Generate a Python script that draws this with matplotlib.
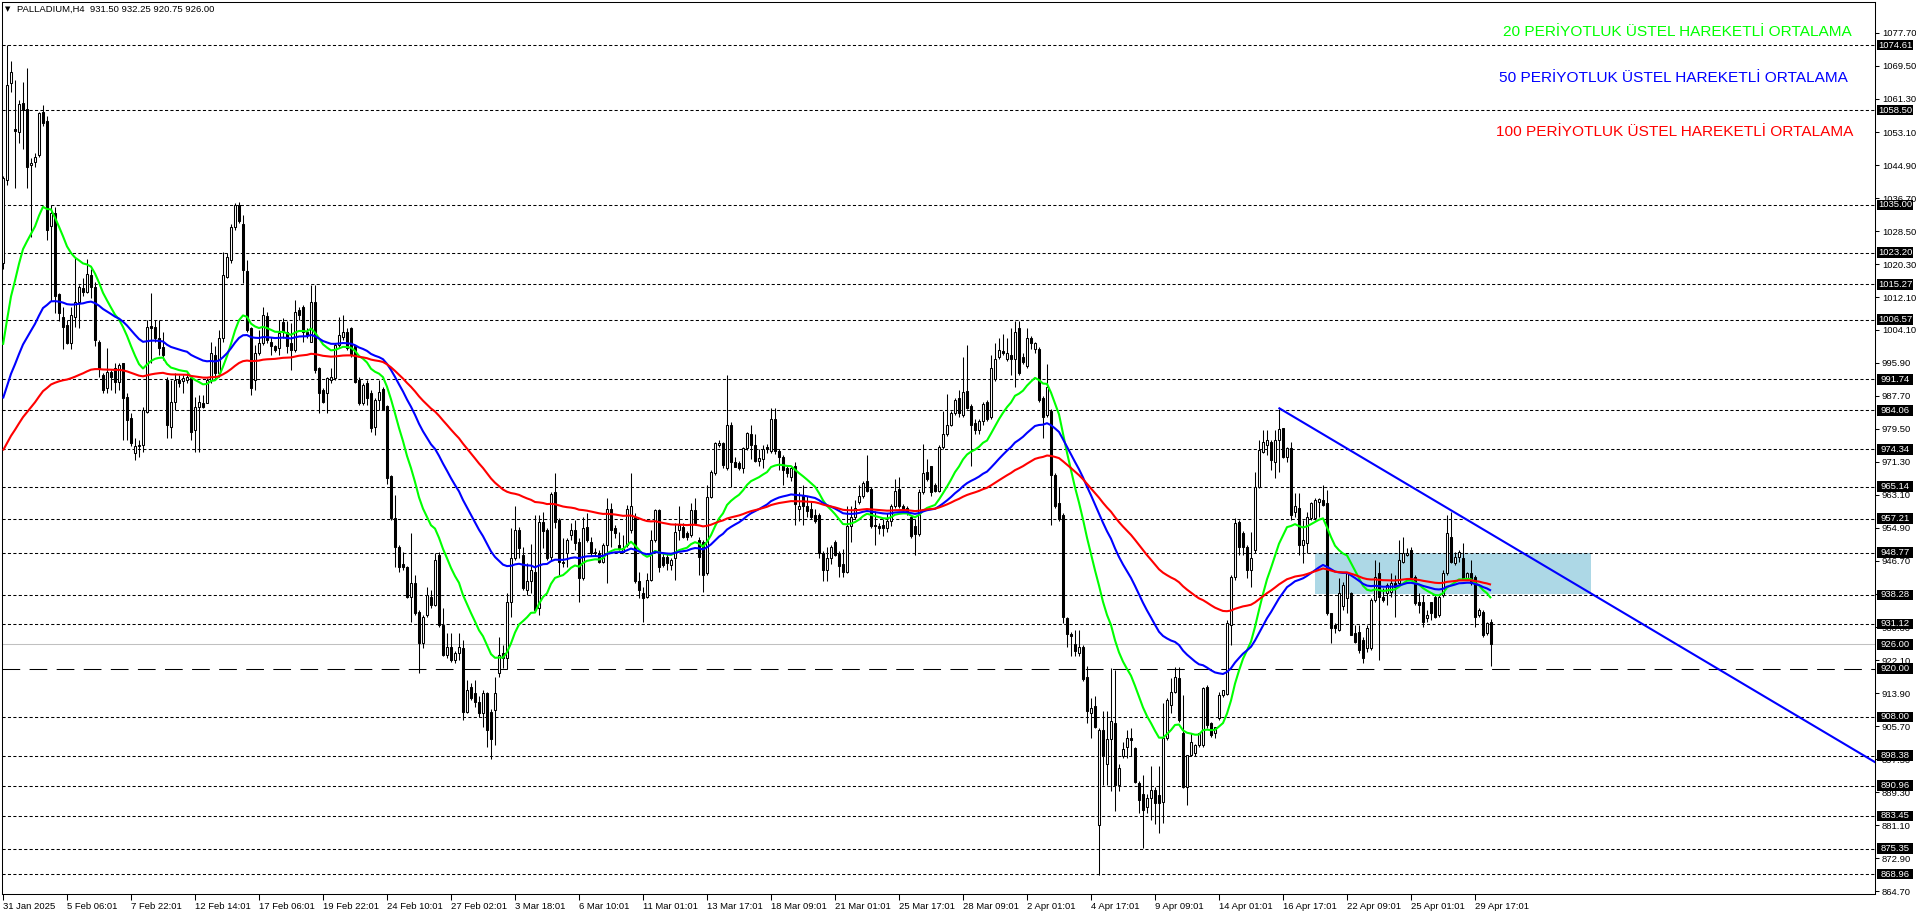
import matplotlib
matplotlib.use('Agg')
import matplotlib.pyplot as plt
import matplotlib.transforms as mtransforms
from matplotlib.patches import Rectangle
import numpy as np

plt.rcParams['font.family'] = ['Liberation Sans', 'DejaVu Sans']

# ---------------- DATA ----------------
symbol_header = "PALLADIUM,H4  931.50 932.25 920.75 926.00"

ohlc = [
(1020.5,1042.2,1019.0,1041.6),(1041.2,1074.7,1040.0,1064.8),(1065.2,1070.7,1063.0,1068.1),(1053.8,1066.0,1039.1,1053.4),
(1053.2,1061.0,1050.3,1060.0),(1060.4,1065.6,1049.0,1058.6),(1058.7,1069.1,1039.1,1044.5),(1044.9,1046.6,1027.1,1045.5),
(1045.7,1047.8,1044.5,1047.0),(1047.4,1058.1,1047.0,1057.7),(1058.1,1059.8,1054.5,1055.4),(1055.9,1057.0,1026.2,1028.8),
(1029.8,1034.9,1011.2,1033.1),(1033.1,1034.6,1008.1,1012.3),(1012.8,1013.2,1006.1,1008.3),(1007.3,1009.8,999.2,1004.8),
(1005.1,1006.5,1000.5,1000.8),(1000.7,1009.8,999.2,1007.7),(1007.1,1021.8,1004.8,1011.0),(1011.0,1015.1,1004.6,1014.7),
(1014.5,1016.8,1012.3,1013.3),(1013.5,1021.5,1013.1,1017.8),(1017.6,1019.0,1012.0,1014.7),(1014.7,1016.0,999.9,1001.5),
(1001.1,1001.5,992.4,994.5),(992.8,993.2,988.3,989.1),(989.5,999.4,988.3,993.6),(993.6,994.0,989.1,992.4),
(994.5,995.7,988.3,991.2),(991.2,995.7,989.1,995.3),(995.7,995.9,976.7,987.0),(987.4,988.3,976.7,981.7),
(982.1,983.3,975.1,975.9),(973.4,977.1,971.7,975.1),(975.1,976.7,972.6,975.5),(975.5,984.9,973.8,984.1),
(983.7,1006.5,983.3,1004.8),(1004.9,1013.1,995.7,1004.6),(1004.8,1006.5,1001.1,1001.9),(1001.9,1006.5,997.8,999.4),
(999.8,1003.6,996.5,997.8),(991.6,992.4,977.1,980.4),(980.0,991.6,977.1,986.2),(986.2,993.2,984.1,991.6),
(991.7,992.8,989.9,990.9),(991.4,992.8,988.3,992.0),(991.7,993.2,990.8,992.4),(992.0,992.4,976.7,978.8),
(979.2,987.4,973.8,985.0),(985.0,987.9,973.8,986.2),(985.8,987.9,984.6,985.0),(985.8,992.0,985.8,991.6),
(991.6,1001.1,990.8,998.2),(997.8,999.9,991.6,993.2),(993.2,1004.0,992.4,1001.9),(1001.9,1023.4,1001.1,1017.6),
(1017.2,1023.0,1016.8,1022.2),(1021.4,1030.4,1020.5,1029.6),(1029.6,1035.4,1028.8,1035.0),(1035.0,1035.8,1030.5,1030.9),
(1030.4,1032.5,1015.6,1018.9),(1018.5,1021.4,1003.6,1004.0),(1004.4,1004.8,987.9,989.5),(991.6,1000.3,989.1,998.2),
(998.2,1004.0,997.8,1000.7),(1000.7,1009.8,1000.3,1007.7),(1007.5,1008.5,1000.7,1001.5),(1001.1,1002.3,997.8,999.9),
(999.9,1000.3,998.6,999.0),(999.4,1006.5,997.8,1003.2),(1006.0,1007.0,1002.0,1003.6),(1003.6,1006.1,998.2,999.9),
(1000.7,1005.6,994.1,999.0),(999.0,1011.4,998.6,1008.5),(1008.9,1009.8,1006.5,1007.7),(1009.8,1010.2,1001.1,1003.6),
(1003.6,1004.4,1001.9,1002.7),(1001.1,1015.1,1001.1,1011.0),(1011.0,1015.1,993.2,994.1),(994.5,994.9,983.3,988.3),
(989.1,989.5,985.8,986.2),(988.3,992.4,983.3,992.0),(991.6,994.5,990.8,992.4),(992.0,1000.7,991.6,1000.3),
(1000.3,1007.3,999.4,1002.7),(1002.3,1007.7,1001.5,1003.6),(1003.6,1004.4,999.0,999.4),(1004.4,1004.8,997.4,997.8),
(999.9,1000.3,990.8,991.2),(991.6,992.4,985.4,985.8),(985.8,990.8,985.4,990.3),(990.8,991.6,985.4,987.0),
(988.3,989.1,978.8,979.6),(980.0,987.0,978.0,986.6),(986.6,991.6,984.1,988.7),(989.3,989.9,984.1,984.1),
(985.1,985.4,965.9,967.2),(967.8,968.0,956.9,957.3),(957.3,963.0,945.3,950.2),(950.2,950.6,944.0,945.3),
(945.9,949.0,944.4,945.3),(945.3,945.5,937.4,937.8),(937.8,953.5,931.6,941.1),(941.1,943.2,933.3,933.7),
(934.1,934.5,918.8,926.3),(926.3,933.3,925.0,932.9),(933.3,940.3,932.9,938.2),(937.8,939.5,934.9,935.8),
(935.8,948.6,935.4,946.9),(948.2,949.0,930.4,930.8),(930.8,935.0,923.0,923.4),(923.4,928.7,922.5,925.4),
(925.4,928.7,921.7,922.1),(922.1,924.4,921.3,923.8),(923.8,928.7,922.0,925.4),(925.0,927.0,907.2,909.3),
(909.3,917.2,908.9,914.7),(915.5,916.3,912.2,912.6),(913.9,917.2,910.4,911.8),(911.8,913.1,908.1,908.9),
(908.9,914.7,905.6,913.9),(913.9,914.3,900.5,904.8),(909.3,910.0,897.5,902.5),(909.7,918.0,901.0,913.9),
(918.8,927.9,918.0,923.4),(923.8,925.9,920.1,922.5),(922.5,938.7,920.0,936.6),(936.6,954.8,932.9,947.3),
(947.3,960.2,946.9,954.4),(954.4,955.2,947.3,949.8),(948.2,950.2,939.5,939.9),(939.5,946.1,938.2,941.6),
(941.6,951.0,938.7,944.4),(944.0,958.1,934.1,934.5),(934.9,958.1,933.3,956.4),(956.4,958.9,949.8,954.0),
(954.4,954.8,946.9,947.3),(947.7,963.8,946.9,963.4),(963.8,968.4,954.8,956.4),(956.9,957.3,943.2,946.5),
(946.5,952.3,945.3,946.1),(948.6,952.3,945.3,951.9),(953.1,956.0,951.9,954.4),(954.4,956.9,949.4,951.1),
(951.5,952.3,936.6,942.4),(942.4,957.7,942.0,954.8),(955.2,958.5,951.5,951.9),(951.5,952.7,947.8,948.6),
(948.6,950.0,948.0,949.0),(948.6,949.4,946.1,946.5),(946.5,951.1,946.1,950.6),(950.6,962.2,941.1,959.7),
(959.7,961.0,950.2,954.4),(954.8,955.5,952.5,953.5),(950.6,953.9,949.4,949.8),(949.0,953.1,948.6,949.8),
(950.6,960.6,950.2,959.7),(954.4,968.4,953.5,960.2),(957.7,958.5,941.1,941.6),(941.6,944.0,937.4,939.5),
(938.7,940.3,931.6,937.4),(937.8,943.6,937.4,942.0),(942.0,954.4,941.6,951.9),(951.9,959.7,951.5,959.3),
(959.3,959.7,944.0,945.3),(947.7,948.6,945.3,945.7),(947.7,948.6,944.4,946.1),(945.7,947.3,944.4,946.9),
(947.3,956.0,942.0,953.9),(954.4,960.2,951.9,955.6),(955.2,956.0,952.3,952.7),(953.5,954.0,952.0,952.7),
(953.1,961.0,952.7,959.3),(959.3,962.2,955.6,956.0),(951.9,952.7,943.2,947.7),(951.5,951.9,939.1,943.2),
(943.6,965.5,943.2,962.6),(962.6,969.3,962.2,968.8),(968.4,976.3,968.0,975.9),(975.5,976.8,975.0,975.9),
(975.9,976.3,969.7,970.5),(969.7,992.8,969.3,980.4),(980.4,981.2,965.1,971.3),(971.3,972.6,970.1,970.1),
(970.9,971.5,969.3,969.7),(969.7,975.0,968.4,974.6),(974.6,978.8,974.2,978.4),(978.2,980.5,972.1,975.4),
(975.4,978.2,971.2,971.6),(971.6,974.4,970.2,972.2),(972.1,975.4,969.8,974.4),(974.9,975.8,973.5,974.4),
(974.0,984.7,973.5,981.9),(981.9,984.7,973.1,974.0),(974.0,974.4,969.3,972.6),(972.6,973.0,965.6,969.3),
(969.8,970.2,967.4,968.4),(967.4,970.2,966.5,969.8),(970.2,971.2,955.7,960.9),(959.5,963.7,956.7,960.4),
(962.7,965.6,955.7,960.4),(960.4,962.7,957.6,959.0),(959.5,961.3,957.1,957.6),(958.0,959.5,956.2,956.7),
(958.0,958.5,947.3,948.7),(948.7,949.2,941.7,944.5),(944.5,950.1,941.7,947.3),(947.3,950.6,945.9,950.1),
(951.5,952.0,947.8,948.2),(948.7,949.2,942.6,945.4),(945.9,949.6,942.6,944.0),(944.0,960.4,943.6,955.3),
(955.3,960.4,951.5,957.6),(957.6,961.8,957.1,959.9),(961.3,965.6,960.9,962.7),(962.7,966.5,962.3,966.0),
(966.5,973.0,963.7,964.1),(964.6,965.1,954.8,955.3),(955.7,959.0,950.6,955.3),(955.3,956.2,953.4,954.8),
(955.7,957.1,952.9,954.8),(954.8,958.5,953.9,956.7),(956.7,960.9,955.3,960.4),(960.4,967.0,959.9,964.1),
(964.6,967.4,959.9,960.4),(960.4,960.9,959.0,959.5),(959.9,960.4,958.1,958.5),(957.6,958.1,952.4,952.9),
(955.3,957.1,948.2,953.4),(953.4,964.6,952.9,963.7),(963.7,975.8,963.2,968.4),(968.8,972.1,966.5,967.0),
(970.2,970.2,962.8,963.7),(965.6,966.0,963.7,964.1),(964.1,975.4,963.7,974.9),(974.9,983.8,974.4,978.2),
(978.2,988.0,977.7,980.5),(980.5,983.8,980.1,983.3),(983.3,987.0,982.8,986.6),(987.1,989.0,982.4,983.3),
(982.9,997.4,982.4,988.5),(988.9,1000.2,984.3,984.7),(985.2,985.7,970.2,980.5),(981.0,981.9,978.2,979.1),
(979.1,981.9,978.2,981.5),(981.5,986.2,980.5,985.7),(986.2,986.6,981.5,981.9),(982.4,997.9,981.9,994.6),
(991.8,1000.7,991.3,996.9),(997.4,1002.1,996.9,999.1),(998.8,1003.0,997.9,998.3),(996.9,1002.1,996.4,998.3),
(997.9,1004.4,992.7,996.9),(996.9,1006.3,989.9,1003.5),(1004.4,1006.3,992.7,993.2),(997.4,998.3,995.5,996.0),
(995.1,1004.4,994.6,1002.1),(1002.1,1002.5,999.3,1000.7),(999.3,1001.1,998.3,1000.7),(999.3,999.7,986.2,986.6),
(987.0,987.5,977.3,982.4),(982.9,995.5,982.4,989.9),(983.8,984.3,955.7,967.9),(967.9,968.4,959.9,960.4),
(961.1,965.1,956.6,957.1),(958.0,958.5,931.4,932.8),(932.6,932.8,925.3,928.6),(928.6,929.0,923.0,928.1),
(926.2,929.5,923.0,924.4),(923.9,929.5,923.0,925.3),(925.3,925.8,916.9,917.4),(917.8,920.6,906.6,909.4),
(908.9,912.7,902.8,910.3),(910.8,913.1,905.2,905.6),(881.3,905.2,868.7,904.7),(904.7,909.4,891.1,898.2),
(896.3,909.4,891.1,902.4),(902.4,920.2,889.7,907.0),(906.6,919.7,884.6,891.1),(891.1,896.3,889.7,895.4),
(898.2,901.9,897.7,900.0),(900.6,904.7,897.7,902.7),(902.7,905.2,898.2,902.3),(900.2,900.6,891.5,891.9),
(891.5,892.0,884.1,887.4),(889.0,893.6,875.4,884.9),(885.7,889.0,884.1,887.8),(887.8,895.7,882.4,889.9),
(889.9,890.5,881.5,886.6),(888.6,895.7,879.1,886.6),(887.0,911.4,881.6,902.7),(902.7,912.6,902.3,912.2),
(911.0,917.6,908.9,914.3),(914.3,920.5,913.9,918.0),(917.6,920.5,906.8,907.2),(903.9,913.4,890.3,890.7),
(890.7,898.6,886.2,898.6),(898.6,903.9,898.2,901.9),(899.0,901.4,898.2,901.0),(901.0,903.9,900.6,903.9),
(901.0,915.5,900.6,915.1),(915.5,915.9,905.2,906.0),(906.4,906.8,903.1,903.5),(903.9,905.6,902.7,905.6),
(907.7,914.3,907.2,913.4),(913.4,914.7,913.0,914.7),(913.8,932.0,913.4,931.2),(930.8,943.2,925.8,942.8),
(942.8,957.3,942.0,956.0),(956.4,956.9,948.2,950.2),(953.5,954.0,948.2,950.2),(950.2,950.6,942.4,944.4),
(944.4,953.9,940.3,947.3),(949.4,968.8,948.6,965.1),(965.1,976.7,964.7,974.2),(973.8,979.2,973.4,976.3),
(975.5,979.2,973.0,976.7),(976.3,976.7,969.3,971.7),(971.3,979.2,967.2,976.7),(976.7,984.5,968.8,979.4),
(979.6,979.6,972.2,972.6),(972.6,975.0,971.3,974.6),(974.6,976.3,956.9,958.1),(958.9,963.5,957.7,960.2),
(959.8,963.5,948.2,950.6),(950.6,956.9,946.1,951.9),(951.1,958.9,948.6,957.7),(957.3,961.4,956.9,961.0),
(957.3,962.2,956.9,961.8),(961.4,962.2,957.7,962.0),(961.8,965.6,960.2,960.6),(961.0,964.3,933.3,933.7),
(933.7,933.7,926.3,930.0),(930.8,931.2,928.7,930.0),(929.6,942.4,929.2,938.7),(935.4,941.5,934.5,940.7),
(937.4,944.0,933.7,943.6),(938.7,939.1,928.3,928.3),(928.7,930.8,926.3,926.7),(929.1,930.8,923.8,924.6),
(927.1,927.9,921.3,922.5),(925.0,930.8,924.2,930.0),(925.0,937.4,924.6,937.0),(937.0,946.9,936.6,942.8),
(943.6,946.5,922.1,937.8),(937.8,939.9,936.6,937.0),(938.7,941.1,935.8,940.7),(939.1,943.6,937.8,941.1),
(941.1,943.2,932.9,940.3),(941.1,951.9,940.7,946.9),(946.5,952.7,946.1,948.6),(948.2,949.8,947.8,948.6),
(949.4,950.2,942.4,942.8),(942.8,943.2,935.8,936.2),(936.6,938.7,933.7,935.8),(936.6,938.2,930.4,931.6),
(932.5,934.5,931.6,933.3),(936.6,936.6,932.0,933.7),(937.8,938.2,932.5,932.9),(933.3,938.2,932.9,937.8),
(938.2,944.4,937.8,943.6),(943.6,958.1,943.2,953.5),(952.7,958.9,946.1,946.5),(946.1,949.0,945.7,947.7),
(947.7,949.4,946.5,949.0),(947.3,951.1,942.0,942.4),(942.4,944.0,942.0,943.6),(943.6,946.9,940.7,941.1),
(942.8,943.2,930.4,932.9),(933.3,934.9,932.9,934.5),(934.1,934.5,927.9,928.3),(928.7,931.6,928.3,931.2),
(931.50,932.25,920.75,926.00),
]

# EMA periods and their values at the first visible bar
ema_periods = [20, 50, 100]
ema_seed = [1000.3, 987.0, 974.1]
ema_colors = ['#00FF00', '#0000FF', '#FF0000']
ema_labels = ["20 PERİYOTLUK ÜSTEL HAREKETLİ ORTALAMA",
              "50 PERİYOTLUK ÜSTEL HAREKETLİ ORTALAMA",
              "100 PERİYOTLUK ÜSTEL HAREKETLİ ORTALAMA"]

dotted_levels = [1074.61, 1058.50, 1035.00, 1023.20, 1015.27, 1006.57, 991.74, 984.06,
                 974.34, 965.14, 957.21, 948.77, 938.28, 931.12, 908.00, 898.38,
                 890.96, 883.45, 875.35, 868.96]
long_dash_level = 920.00
bid_level = 926.00

ytick_vals = [1077.70, 1069.50, 1061.30, 1053.10, 1044.90, 1036.70, 1028.50, 1020.30,
              1012.10, 1004.10, 995.90, 987.70, 979.50, 971.30, 963.10, 954.90, 946.70,
              938.50, 930.30, 922.10, 913.90, 905.70, 897.50, 889.30, 881.10, 872.90, 864.70]

xtick_labels = ["31 Jan 2025", "5 Feb 06:01", "7 Feb 22:01", "12 Feb 14:01", "17 Feb 06:01",
                "19 Feb 22:01", "24 Feb 10:01", "27 Feb 02:01", "3 Mar 18:01", "6 Mar 10:01",
                "11 Mar 01:01", "13 Mar 17:01", "18 Mar 09:01", "21 Mar 01:01", "25 Mar 17:01",
                "28 Mar 09:01", "2 Apr 01:01", "4 Apr 17:01", "9 Apr 09:01", "14 Apr 01:01",
                "16 Apr 17:01", "22 Apr 09:01", "25 Apr 01:01", "29 Apr 17:01"]
bars_per_label = 16

trend_x = [319.1, 470.0]
trend_y = [984.55, 895.6]

zone_x = [328.0, 397.0]
zone_y = [938.4, 948.6]

# ---------------- FIGURE ----------------
W, H, DPI = 1916, 915, 100
fig = plt.figure(figsize=(W / DPI, H / DPI), dpi=DPI)
fig.patch.set_facecolor('white')
L_PX, R_PX, T_PX, B_PX = 2, 1875, 2, 894
ax = fig.add_axes([L_PX / W, 1 - B_PX / H, (R_PX - L_PX) / W, (B_PX - T_PX) / H])
ax.set_facecolor('white')

arr = np.array(ohlc)
o, h, l, c = arr[:, 0], arr[:, 1], arr[:, 2], arr[:, 3]
idx = np.arange(len(c))

ax.set_xlim(-0.25, 468)
ax.set_ylim(864.07, 1085.35)

# zone rectangle
ax.add_patch(Rectangle((zone_x[0], zone_y[0]), zone_x[1] - zone_x[0], zone_y[1] - zone_y[0],
                       facecolor='#ADD8E6', edgecolor='none', zorder=0.5))

# horizontal levels
for lv in dotted_levels:
    ax.axhline(lv, color='black', lw=0.75, ls=(0, (3, 2.2)), zorder=1)
ax.axhline(long_dash_level, color='black', lw=0.75, ls=(0, (17, 9)), zorder=1)
ax.axhline(bid_level, color='#C0C0C0', lw=0.75, zorder=1)

# candles
up = c >= o
ax.vlines(idx, l, h, color='black', lw=0.75, zorder=3)
bot = np.minimum(o, c)
hgt = np.abs(c - o)
ax.bar(idx[up], hgt[up], bottom=bot[up], width=0.5, facecolor='white',
       edgecolor='black', linewidth=0.75, zorder=4)
ax.bar(idx[~up], hgt[~up], bottom=bot[~up], width=0.5, facecolor='black',
       edgecolor='black', linewidth=0.75, zorder=4)

# EMAs
for per, seed, col in zip(ema_periods, ema_seed, ema_colors):
    a = 2.0 / (per + 1)
    e = np.empty(len(c))
    e[0] = seed
    for t in range(1, len(c)):
        e[t] = e[t - 1] + a * (c[t] - e[t - 1])
    ax.plot(idx, e, color=col, lw=1.5, zorder=5, solid_capstyle='butt')

# trend line
ax.plot(trend_x, trend_y, color='#0000FF', lw=1.5, zorder=5)

# axes styling
for s in ax.spines.values():
    s.set_color('black')
    s.set_linewidth(0.75)
ax.yaxis.tick_right()
ax.set_yticks(ytick_vals)
ax.set_yticklabels([f'{v:.2f}' for v in ytick_vals], fontsize=6.8)
ax.tick_params(axis='y', direction='out', length=3, width=0.75, pad=2, colors='black')
ax.set_xticks(np.arange(len(xtick_labels)) * bars_per_label)
ax.set_xticklabels(xtick_labels, fontsize=6.8, ha='left')
ax.tick_params(axis='x', direction='out', length=4, width=0.75, pad=2, colors='black')

# boxed price labels on the right
blend = mtransforms.blended_transform_factory(fig.transFigure, ax.transData)
box_x0 = 1877 / W
box_w = 36 / W
px_price = (1085.35 - 864.07) / (B_PX - T_PX)
for lv in dotted_levels + [long_dash_level, bid_level]:
    ax.add_patch(Rectangle((box_x0, lv - 5.2 * px_price), box_w, 10.4 * px_price,
                           transform=blend, facecolor='black', edgecolor='none',
                           clip_on=False, zorder=10))
    ax.text(box_x0 + box_w / 2, lv, f'{lv:.2f}', transform=blend, color='white',
            fontsize=6.8, ha='center', va='center', clip_on=False, zorder=11)

# header
fig.text(5 / W, 1 - 9 / H, '▼', fontsize=5, family=['DejaVu Sans'], va='center', ha='left')
fig.text(17 / W, 1 - 9 / H, symbol_header, fontsize=6.8, va='center', ha='left')

# legend texts
legend_pos = [(1503, 32), (1499, 77.5), (1496, 132)]
for (xp, yp), txt, col in zip(legend_pos, ema_labels, ema_colors):
    fig.text(xp / W, 1 - yp / H, txt, color=col, fontsize=11.1, ha='left', va='center')

fig.savefig('out.png', dpi=DPI, facecolor='white')
